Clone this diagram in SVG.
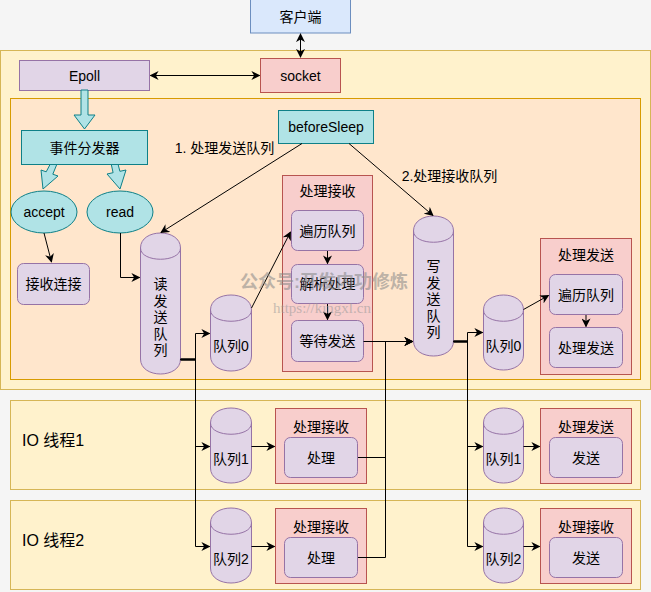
<svg xmlns="http://www.w3.org/2000/svg" width="651" height="592" viewBox="0 0 651 592">
<defs>
<marker id="ah" viewBox="0 0 10 10" refX="9" refY="5" markerWidth="9" markerHeight="9" markerUnits="userSpaceOnUse" orient="auto-start-reverse">
<path d="M0,0 L10,5 L0,10 L3,5 Z" fill="#000"/>
</marker>
<style>
text{font-family:"Liberation Sans","Noto Sans CJK SC",sans-serif;font-size:14px;fill:#000;text-anchor:middle;dominant-baseline:central}
.yel{fill:#fff2cc;stroke:#d6b656}
.org{fill:#ffe6cc;stroke:#d79b00}
.pur{fill:#e1d5e7;stroke:#9673a6}
.red{fill:#f8cecc;stroke:#b85450}
.blu{fill:#dae8fc;stroke:#6c8ebf}
.cya{fill:#b0e3e6;stroke:#0e8088}
.cap{fill:none;stroke:#9673a6}
.e{fill:none;stroke:#000;stroke-width:1}
.ea{fill:none;stroke:#000;stroke-width:1;marker-end:url(#ah)}
.eb{fill:none;stroke:#000;stroke-width:1;marker-end:url(#ah);marker-start:url(#ah)}
.lbl{text-anchor:start;font-size:16px}
</style>
</defs>
<rect x="0" y="0" width="651" height="592" fill="#f5f5f5"/>

<g id="main-thread"><rect class="yel" x="0.5" y="50.5" width="650" height="339"/></g>
<g id="inner-area"><rect class="org" x="10.5" y="98.5" width="630" height="281"/></g>
<g id="io1"><rect class="yel" x="10.5" y="400.5" width="630" height="89"/><text class="lbl" x="22" y="440">IO 线程1</text></g>
<g id="io2"><rect class="yel" x="10.5" y="500.5" width="630" height="89"/><text class="lbl" x="22" y="540">IO 线程2</text></g>

<g id="client"><rect class="blu" x="250.5" y="-1" width="100" height="34"/><text x="300.5" y="17">客户端</text></g>
<g id="epoll"><rect class="pur" x="19.5" y="60.5" width="130" height="30"/><text x="84.5" y="75.5">Epoll</text></g>
<g id="socket"><rect class="red" x="260.5" y="58.5" width="80" height="34"/><text x="300.5" y="75.5">socket</text></g>

<g id="flex-arrows">
<polygon class="cya" points="81,90 88,90 88,115 95,115 84.5,129 74,115 81,115"/>
<polygon class="cya" points="50.3,164 56.9,164.2 52.8,174.2 58,176 43,189 41,170 46.2,171.8"/>
<polygon class="cya" points="111.2,164 118,164 119.9,171.3 126,170 120,189 107,174 113.1,172.7"/>
</g>

<g id="dispatcher"><rect class="cya" x="21.5" y="130.5" width="126" height="34"/><text x="84.5" y="147.5">事件分发器</text></g>
<g id="beforeSleep"><rect class="cya" x="278.5" y="110.5" width="95" height="33"/><text x="326" y="127">beforeSleep</text></g>
<g id="accept"><ellipse class="cya" cx="44" cy="212" rx="33" ry="21"/><text x="44" y="212">accept</text></g>
<g id="read"><ellipse class="cya" cx="120" cy="212" rx="33" ry="21"/><text x="120" y="212">read</text></g>
<g id="accept-conn"><rect class="pur" x="17.5" y="263.5" width="72" height="41" rx="6"/><text x="53.5" y="284">接收连接</text></g>

<g id="read-queue">
<path class="pur" d="M140.5,248 C140.5,228 180.5,228 180.5,248 L180.5,359 C180.5,379 140.5,379 140.5,359 Z"/>
<path class="cap" d="M140.5,248 C140.5,263 180.5,263 180.5,248"/>
<text x="160.5" y="284">读</text><text x="160.5" y="300.5">发</text><text x="160.5" y="317">送</text><text x="160.5" y="333.5">队</text><text x="160.5" y="350">列</text>
</g>
<g id="write-queue">
<path class="pur" d="M413.5,231 C413.5,211 453.5,211 453.5,231 L453.5,341 C453.5,361 413.5,361 413.5,341 Z"/>
<path class="cap" d="M413.5,231 C413.5,246 453.5,246 453.5,231"/>
<text x="433.5" y="266">写</text><text x="433.5" y="282.5">发</text><text x="433.5" y="299">送</text><text x="433.5" y="315.5">队</text><text x="433.5" y="332">列</text>
</g>

<g id="lq0">
<path class="pur" d="M210.5,310 C210.5,290 251.5,290 251.5,310 L251.5,356 C251.5,376 210.5,376 210.5,356 Z"/>
<path class="cap" d="M210.5,310 C210.5,325 251.5,325 251.5,310"/><text x="231" y="346">队列0</text>
</g>
<g id="lq1">
<path class="pur" d="M210.5,423 C210.5,403 251.5,403 251.5,423 L251.5,468 C251.5,488 210.5,488 210.5,468 Z"/>
<path class="cap" d="M210.5,423 C210.5,438 251.5,438 251.5,423"/><text x="231" y="459">队列1</text>
</g>
<g id="lq2">
<path class="pur" d="M210.5,523 C210.5,503 251.5,503 251.5,523 L251.5,568 C251.5,588 210.5,588 210.5,568 Z"/>
<path class="cap" d="M210.5,523 C210.5,538 251.5,538 251.5,523"/><text x="231" y="559">队列2</text>
</g>
<g id="rq0">
<path class="pur" d="M483.5,310 C483.5,290 523.5,290 523.5,310 L523.5,355 C523.5,375 483.5,375 483.5,355 Z"/>
<path class="cap" d="M483.5,310 C483.5,325 523.5,325 523.5,310"/><text x="503.5" y="346">队列0</text>
</g>
<g id="rq1">
<path class="pur" d="M483.5,423 C483.5,403 523.5,403 523.5,423 L523.5,468 C523.5,488 483.5,488 483.5,468 Z"/>
<path class="cap" d="M483.5,423 C483.5,438 523.5,438 523.5,423"/><text x="503.5" y="459">队列1</text>
</g>
<g id="rq2">
<path class="pur" d="M483.5,523 C483.5,503 523.5,503 523.5,523 L523.5,568 C523.5,588 483.5,588 483.5,568 Z"/>
<path class="cap" d="M483.5,523 C483.5,538 523.5,538 523.5,523"/><text x="503.5" y="559">队列2</text>
</g>

<g id="recv-main">
<rect class="red" x="282.5" y="175.5" width="90" height="196"/><text x="327.5" y="191">处理接收</text>
<rect class="pur" x="291.5" y="210.5" width="72" height="40" rx="6"/><text x="327.5" y="230.5">遍历队列</text>
<rect class="pur" x="291.5" y="264.5" width="72" height="39" rx="6"/><text x="327.5" y="284">解析处理</text>
<rect class="pur" x="291.5" y="320.5" width="72" height="41" rx="6"/><text x="327.5" y="341">等待发送</text>
</g>
<g id="send-main">
<rect class="red" x="540.5" y="238.5" width="91" height="136"/><text x="586" y="255">处理发送</text>
<rect class="pur" x="549.5" y="274.5" width="73" height="40" rx="6"/><text x="586" y="294.5">遍历队列</text>
<rect class="pur" x="549.5" y="327.5" width="73" height="40" rx="6"/><text x="586" y="347.5">处理发送</text>
</g>
<g id="recv-io1">
<rect class="red" x="275.5" y="408.5" width="91" height="75"/><text x="321" y="427">处理接收</text>
<rect class="pur" x="284.5" y="437.5" width="73" height="40" rx="6"/><text x="321" y="457.5">处理</text>
</g>
<g id="recv-io2">
<rect class="red" x="275.5" y="508.5" width="91" height="75"/><text x="321" y="527">处理接收</text>
<rect class="pur" x="284.5" y="537.5" width="73" height="40" rx="6"/><text x="321" y="557.5">处理</text>
</g>
<g id="send-io1">
<rect class="red" x="540.5" y="408.5" width="91" height="75"/><text x="586" y="427">处理发送</text>
<rect class="pur" x="549.5" y="437.5" width="73" height="40" rx="6"/><text x="586" y="457.5">发送</text>
</g>
<g id="send-io2">
<rect class="red" x="540.5" y="508.5" width="91" height="75"/><text x="586" y="527">处理接收</text>
<rect class="pur" x="549.5" y="537.5" width="73" height="40" rx="6"/><text x="586" y="557.5">发送</text>
</g>

<g id="connectors">
<path class="eb" d="M300.5,34 V57"/>
<path class="eb" d="M150.5,75.5 H259.5"/>
<path class="ea" d="M44,233 L51.5,262"/>
<path class="ea" d="M120.5,233 V277.5 H139.5"/>
<path class="ea" d="M302,143.5 L161,232.5"/>
<path class="ea" d="M349,143.5 L433,215.5"/>
<path class="ea" d="M180.5,359.5 H195.5 V333.5 H209.5"/>
<path class="ea" d="M180.5,359.5 H195.5 V446.5 H209.5"/>
<path class="ea" d="M180.5,359.5 H195.5 V546.5 H209.5"/>
<path d="M180.5,359.5 H195.5" stroke="#000" stroke-width="2.5" fill="none"/>
<path class="ea" d="M251.5,308 L290.5,232"/>
<path class="ea" d="M327.5,251 V263.5"/>
<path class="ea" d="M327.5,304 V319.5"/>
<path class="ea" d="M363.5,341.5 H412.5"/>
<path class="ea" d="M358,457.5 H385.5 V341.5 H412.5" stroke="#333"/>
<path class="ea" d="M358,557.5 H385.5 V341.5 H412.5"/>
<path class="ea" d="M453.5,341.5 H467.5 V332.5 H482.5"/>
<path class="ea" d="M453.5,341.5 H467.5 V446.5 H482.5"/>
<path class="ea" d="M453.5,341.5 H467.5 V546.5 H482.5"/>
<path d="M453.5,341.5 H467.5" stroke="#000" stroke-width="2.5" fill="none"/>
<path class="ea" d="M523.5,309.5 L548.5,295.5"/>
<path class="ea" d="M586,315 V326.5"/>
<path class="ea" d="M251.5,446.5 H274.5"/>
<path class="ea" d="M251.5,546.5 H274.5"/>
<path class="ea" d="M523.5,446.5 H539.5"/>
<path class="ea" d="M523.5,546.5 H539.5"/>
</g>

<g id="edge-labels">
<text x="224.5" y="147.5">1. 处理发送队列</text>
<text x="449.5" y="176">2.处理接收队列</text>
</g>

<g id="watermark" opacity="0.55">
<text x="240" y="282" style="text-anchor:start;font-size:18px;font-weight:bold;fill:#888">公众号:开发内功修炼</text>
<text x="273" y="308" style="text-anchor:start;font-size:15px;fill:#999;font-family:'Liberation Serif',serif">https://kingxl.cn</text>
</g>
</svg>
